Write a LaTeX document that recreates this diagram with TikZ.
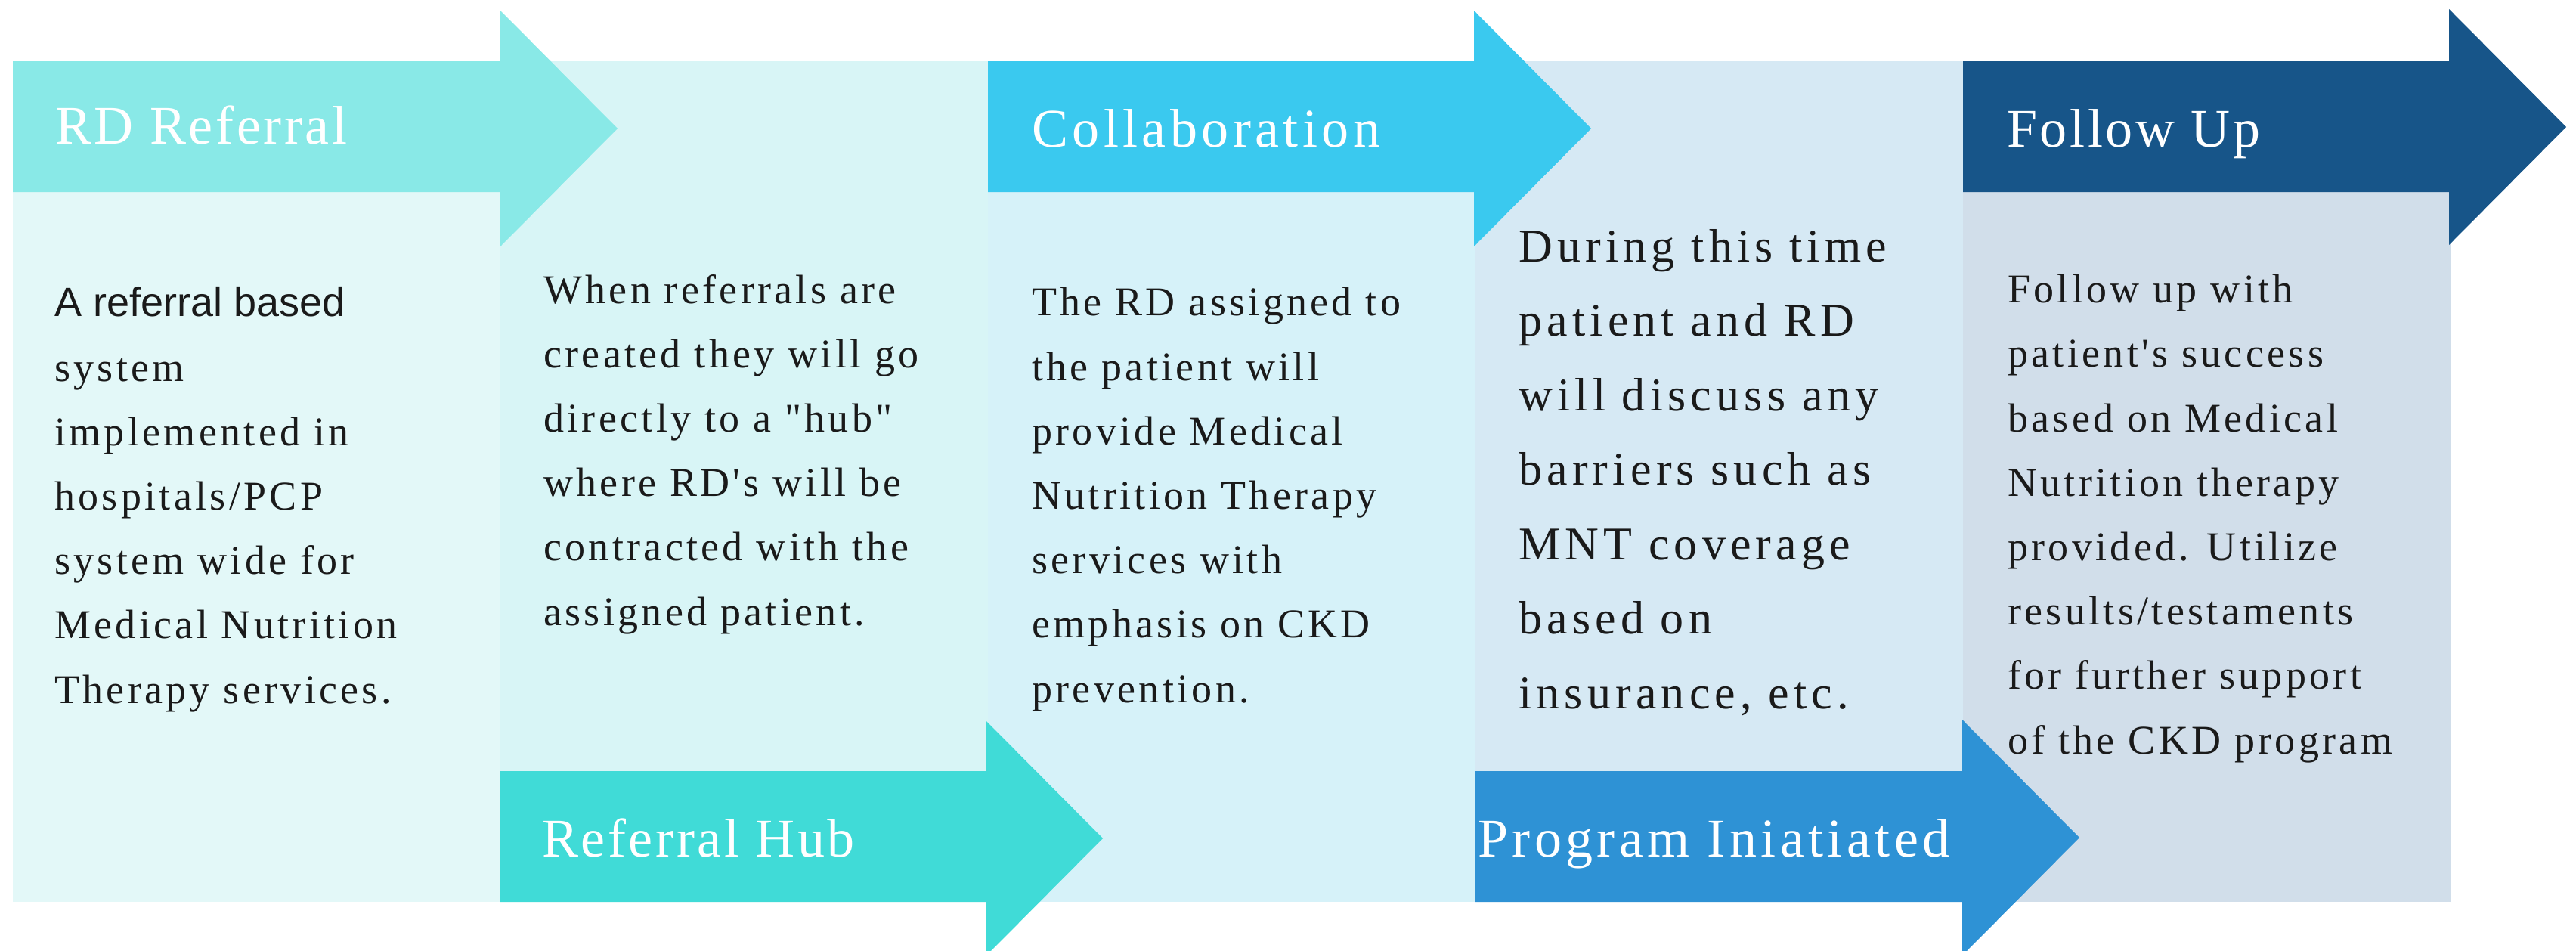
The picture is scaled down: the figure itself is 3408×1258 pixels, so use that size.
\documentclass[tikz,border=0pt]{standalone}
\usepackage{fontspec}
\setmainfont{Liberation Serif}
\newfontfamily\labelfont[LetterSpace=5]{Liberation Serif}
\newfontfamily\widelabelfont[LetterSpace=7.5]{Liberation Serif}
\newfontfamily\bodyfont[LetterSpace=8]{Liberation Serif}
\newfontfamily\widebodyfont[LetterSpace=10]{Liberation Serif}
\newfontfamily\sansbody{Liberation Sans}

\definecolor{panelA}{HTML}{E3F8F8}
\definecolor{panelB}{HTML}{D8F5F6}
\definecolor{panelC}{HTML}{D6F2F9}
\definecolor{panelD}{HTML}{D6E9F4}
\definecolor{panelE}{HTML}{D1DEEA}
\definecolor{arrowA}{HTML}{89E9E7}
\definecolor{arrowB}{HTML}{40DBD7}
\definecolor{arrowC}{HTML}{3AC9EF}
\definecolor{arrowD}{HTML}{2E92D5}
\definecolor{arrowE}{HTML}{175589}
\definecolor{bodyink}{HTML}{1A1A1A}

% stage arrow: colour, shaft left, shaft right, shaft top, shaft bottom, tip y
\newcommand\stagearrow[6]{%
  \fill[#1] (#2,#4) -- (#3,#4) -- (#3,#6-156) -- (#3+155,#6)
    -- (#3,#6+156) -- (#3,#5) -- (#2,#5) -- cycle;}

\begin{document}
\begin{tikzpicture}[x=1pt,y=-1pt,
  headlabel/.style={text=white, inner sep=0pt, anchor=base west,
    font=\labelfont\fontsize{72}{86}\selectfont},
  wideheadlabel/.style={headlabel, font=\widelabelfont\fontsize{72}{86}\selectfont},
  % multi-line descriptions are placed by the baseline of their last line
  bodytext/.style={text=bodyink, inner sep=0pt, anchor=base west, align=left,
    font=\bodyfont\fontsize{54}{85.2}\selectfont},
  widebody/.style={bodytext, font=\widebodyfont\fontsize{62}{98.5}\selectfont}]
\useasboundingbox (0,0) rectangle (3408,1258);
\fill[white] (0,0) rectangle (3408,1258);

% column panels
\fill[panelA] (17,81) rectangle (662,1193);
\fill[panelB] (662,81) rectangle (1307,1193);
\fill[panelC] (1307,81) rectangle (1952,1193);
\fill[panelD] (1952,81) rectangle (2597,1193);
\fill[panelE] (2597,81) rectangle (3242,1193);

% stage arrows
\stagearrow{arrowA}{17}{662}{81}{254}{170}
\stagearrow{arrowC}{1307}{1950}{81}{254}{170}
\stagearrow{arrowE}{2597}{3240}{81}{254}{168}
\stagearrow{arrowB}{662}{1304}{1020}{1193}{1109}
\stagearrow{arrowD}{1952}{2596}{1020}{1193}{1108}

% stage titles
\node[headlabel] (t1) at (73,190) {RD Referral};
\node[headlabel] (t2) at (717,1133) {Referral Hub};
\node[wideheadlabel] (t3) at (1365,194) {Collaboration};
\node[wideheadlabel] (t4) at (1955,1133) {Program Iniatiated};
\node[headlabel] (t5) at (2655,194) {Follow Up};

% stage descriptions
\node[bodytext] (d1) at (72,930) {{\sansbody A referral based}\\system\\implemented in\\hospitals/PCP\\system wide for\\Medical Nutrition\\Therapy services.};
\node[bodytext] (d2) at (719,827) {When referrals are\\created they will go\\directly to a "hub"\\where RD's will be\\contracted with the\\assigned patient.};
\node[bodytext] (d3) at (1365,929) {The RD assigned to\\the patient will\\provide Medical\\Nutrition Therapy\\services with\\emphasis on CKD\\prevention.};
\node[widebody] (d4) at (2009,937) {During this time\\patient and RD\\will discuss any\\barriers such as\\MNT coverage\\based on\\insurance, etc.};
\node[bodytext] (d5) at (2656,997) {Follow up with\\patient's success\\based on Medical\\Nutrition therapy\\provided. Utilize\\results/testaments\\for further support\\of the CKD program};
\end{tikzpicture}
\end{document}
